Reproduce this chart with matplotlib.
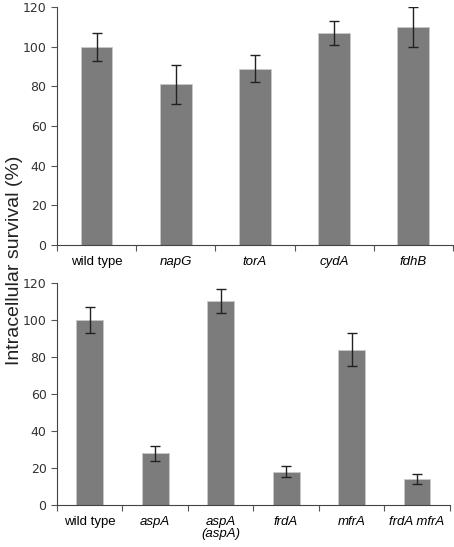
import numpy as np
import matplotlib.pyplot as plt

plt.rcParams['font.family'] = ['Liberation Sans', 'DejaVu Sans']

# top panel
top_labels = ['wild type', 'napG', 'torA', 'cydA', 'fdhB']
top_values = [100, 81, 89, 107, 110]
top_errors = [7, 10, 7, 6, 10]

# bottom panel
bot_labels = ['wild type', 'aspA', 'aspA\n(aspA)', 'frdA', 'mfrA', 'frdA mfrA']
bot_values = [100, 28, 110, 18, 84, 14]
bot_errors = [7, 4, 6.5, 3, 9, 2.5]

bar_color = '#7c7c7c'


def draw_panel(ax, labels, values, errors, width):
    n = len(labels)
    x = np.arange(n)
    ax.bar(x, values, width=width, color=bar_color, edgecolor='#c8c8c8', linewidth=0.6, zorder=2)
    ax.errorbar(x, values, yerr=errors, fmt='none', ecolor='#222222', elinewidth=1.0,
                capsize=3.5, capthick=1.0, zorder=3)
    ax.set_xlim(-0.5, n - 0.5)
    ax.set_ylim(0, 120)
    ax.set_yticks(range(0, 121, 20))
    ax.set_yticklabels([str(v) for v in range(0, 121, 20)], family='DejaVu Sans')
    ax.set_xticks(x)
    ax.set_xticklabels(labels, linespacing=1.0)
    for t, lab in zip(ax.get_xticklabels(), labels):
        if lab != 'wild type':
            t.set_style('italic')
    ax.set_xticks(np.arange(n + 1) - 0.5, minor=True)
    ax.tick_params(axis='x', which='major', length=0, pad=8, labelsize=9.5)
    ax.tick_params(axis='x', which='minor', length=4, width=0.8, color='#555555')
    ax.tick_params(axis='y', length=4, width=0.8, color='#555555', labelsize=9, labelcolor='#333333')
    for s in ['top', 'right']:
        ax.spines[s].set_visible(False)
    for s in ['left', 'bottom']:
        ax.spines[s].set_color('#444444')
        ax.spines[s].set_linewidth(0.8)


fig = plt.figure(figsize=(4.54, 5.47), dpi=100)
ax1 = fig.add_axes([0.1256, 0.552, 0.872, 0.435])
ax2 = fig.add_axes([0.1256, 0.0768, 0.865, 0.406])

draw_panel(ax1, top_labels, top_values, top_errors, 0.4)
draw_panel(ax2, bot_labels, bot_values, bot_errors, 0.41)

fig.text(0.033, 1 - 260 / 547, 'Intracellular survival (%)', rotation=90, ha='center', va='center',
         fontsize=14, color='#222222')

fig.savefig('out.png', dpi=100)
